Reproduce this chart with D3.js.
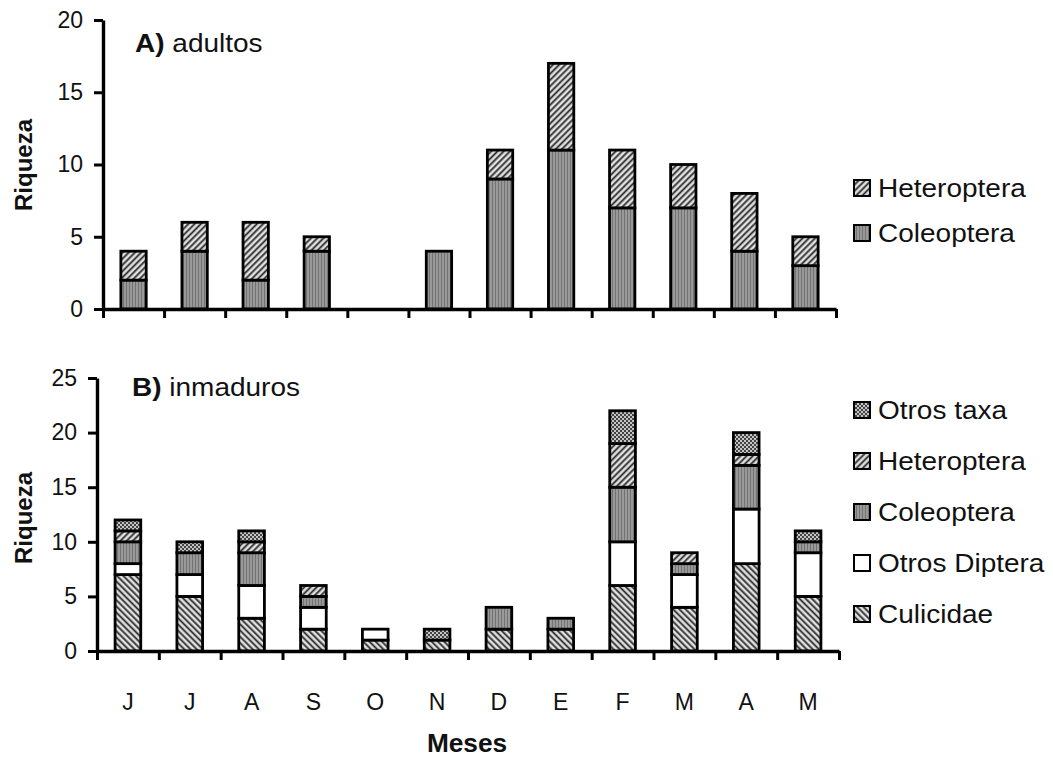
<!DOCTYPE html>
<html><head><meta charset="utf-8">
<script src="https://cdn.jsdelivr.net/npm/d3@7/dist/d3.min.js"></script>
<style>
body{margin:0;background:#fff;}
svg{display:block;font-family:"Liberation Sans",Arial,sans-serif;}
</style></head>
<body><svg id="c" width="1053" height="757"></svg>
<script>
const months = ["J","J","A","S","O","N","D","E","F","M","A","M"];
// A) adultos
const adultColeoptera  = [2,4,2,4,0,4,9,11,7,7,4,3];
const adultHeteroptera = [2,2,4,1,0,0,2,6,4,3,4,2];
// B) inmaduros
const immCulicidae     = [7,5,3,2,1,1,2,2,6,4,8,5];
const immOtrosDiptera  = [1,2,3,2,1,0,0,0,4,3,5,4];
const immColeoptera    = [2,2,3,1,0,0,2,1,5,1,4,1];
const immHeteroptera   = [1,0,1,1,0,0,0,0,4,1,1,0];
const immOtrosTaxa     = [1,1,1,0,0,1,0,0,3,0,2,1];
const ticksA = [0,5,10,15,20];
const ticksB = [0,5,10,15,20,25];

const svg = d3.select("#c");
const defs = svg.append("defs");

function hatch(id, angle){
  const p = defs.append("pattern").attr("id",id).attr("patternUnits","userSpaceOnUse")
    .attr("width",4.4).attr("height",4.4).attr("patternTransform",`rotate(${angle})`);
  p.append("rect").attr("width",4.4).attr("height",4.4).attr("fill","#e2e2e2");
  p.append("line").attr("x1",1.2).attr("y1",0).attr("x2",1.2).attr("y2",4.4)
    .attr("stroke","#2a2a2a").attr("stroke-width",1.8);
}
hatch("pHet",45);
hatch("pCul",-45);
{
  const p = defs.append("pattern").attr("id","pCol").attr("patternUnits","userSpaceOnUse")
    .attr("width",3).attr("height",3);
  p.append("rect").attr("width",3).attr("height",3).attr("fill","#999");
  p.append("line").attr("x1",0.5).attr("y1",0).attr("x2",0.5).attr("y2",3)
    .attr("stroke","#737373").attr("stroke-width",1);
}
{
  const p = defs.append("pattern").attr("id","pOtr").attr("patternUnits","userSpaceOnUse")
    .attr("width",4).attr("height",4);
  p.append("rect").attr("width",4).attr("height",4).attr("fill","#444");
  p.append("rect").attr("x",0).attr("y",0).attr("width",2).attr("height",2).attr("fill","#c4c4c4");
  p.append("rect").attr("x",2).attr("y",2).attr("width",2).attr("height",2).attr("fill","#c4c4c4");
}
const fills = {"Culicidae":"url(#pCul)","Otros Diptera":"#ffffff","Coleoptera":"url(#pCol)",
  "Heteroptera":"url(#pHet)","Otros taxa":"url(#pOtr)"};
const SX = 1.12; // horizontal stretch of the scanned text

function panel(cfg){
  const {x0,x1,yBase,yTop,max,ticks,series,title,titleX,titleY,legendY,legendStep,labelY,showMonths} = cfg;
  const g = svg.append("g");
  const x = d3.scaleBand().domain(d3.range(months.length)).range([x0,x1])
    .paddingInner(0.585).paddingOuter(0.2925);
  const xb = d3.scaleLinear().domain([0,months.length]).range([x0,x1]);
  const y = d3.scaleLinear().domain([0,max]).range([yBase,yTop]);

  const keys = series.map(s=>s.name);
  const rows = months.map((m,i)=>{const o={i}; series.forEach(s=>o[s.name]=s.values[i]); return o;});
  const stack = d3.stack().keys(keys)(rows);

  stack.forEach(layer=>{
    g.append("g").selectAll("rect").data(layer.filter(d=>d[1]-d[0]>0)).join("rect")
      .attr("x",d=>x(d.data.i)).attr("width",x.bandwidth())
      .attr("y",d=>y(d[1])).attr("height",d=>y(d[0])-y(d[1]))
      .attr("fill",fills[layer.key]).attr("stroke","#000").attr("stroke-width",2.8);
  });

  const ya = g.append("g").attr("transform",`translate(${x0},0)`)
    .call(d3.axisLeft(y).tickValues(ticks).tickSize(9).tickSizeOuter(0).tickPadding(11));
  ya.select(".domain").attr("stroke-width",3.4);
  ya.selectAll(".tick line").attr("stroke-width",3);
  ya.selectAll("text").attr("font-size",23).attr("font-family","Liberation Sans, Arial, sans-serif").attr("fill","#111");

  const xa = g.append("g").attr("transform",`translate(0,${yBase})`)
    .call(d3.axisBottom(xb).ticks(months.length).tickSize(9).tickSizeOuter(0).tickFormat(""));
  xa.select(".domain").attr("stroke-width",3.4);
  xa.selectAll(".tick line").attr("stroke-width",3);

  if(showMonths){
    g.append("g").selectAll("text").data(months).join("text")
      .attr("x",(d,i)=>x(i)+x.bandwidth()/2).attr("y",yBase+59)
      .attr("text-anchor","middle").attr("font-size",23).attr("fill","#111").text(d=>d);
  }

  const t = g.append("text").attr("transform",`translate(${titleX},${titleY}) scale(${SX},1)`)
    .attr("font-size",25).attr("fill","#111");
  t.append("tspan").attr("font-weight","bold").text(title[0]);
  t.append("tspan").text(" "+title[1]);

  g.append("text").attr("transform",`translate(32,${labelY}) rotate(-90)`)
    .attr("text-anchor","middle").attr("font-size",24).attr("font-weight","bold").attr("fill","#111")
    .text("Riqueza");

  const leg = g.append("g").selectAll("g").data(series.slice().reverse()).join("g")
    .attr("transform",(d,i)=>`translate(853,${legendY + i*legendStep})`);
  leg.append("rect").attr("x",1).attr("y",-17).attr("width",16).attr("height",16)
    .attr("fill",d=>fills[d.name]).attr("stroke","#000").attr("stroke-width",2);
  leg.append("text").attr("transform",`translate(25,0) scale(${SX},1)`)
    .attr("font-size",25).attr("fill","#111").text(d=>d.name);
}

panel({x0:103,x1:836,yBase:309,yTop:20,max:20,ticks:ticksA,
  series:[{name:"Coleoptera",values:adultColeoptera},{name:"Heteroptera",values:adultHeteroptera}],
  title:["A)","adultos"],titleX:135,titleY:52,legendY:197,legendStep:45,labelY:165,showMonths:false});
panel({x0:97,x1:839,yBase:651,yTop:378,max:25,ticks:ticksB,
  series:[{name:"Culicidae",values:immCulicidae},{name:"Otros Diptera",values:immOtrosDiptera},
          {name:"Coleoptera",values:immColeoptera},{name:"Heteroptera",values:immHeteroptera},
          {name:"Otros taxa",values:immOtrosTaxa}],
  title:["B)","inmaduros"],titleX:132,titleY:396,legendY:419,legendStep:51,labelY:518,showMonths:true});

svg.append("text").attr("transform","translate(467,752) scale(1.05,1)").attr("text-anchor","middle")
  .attr("font-size",25).attr("font-weight","bold").attr("fill","#111").text("Meses");
</script></body></html>
